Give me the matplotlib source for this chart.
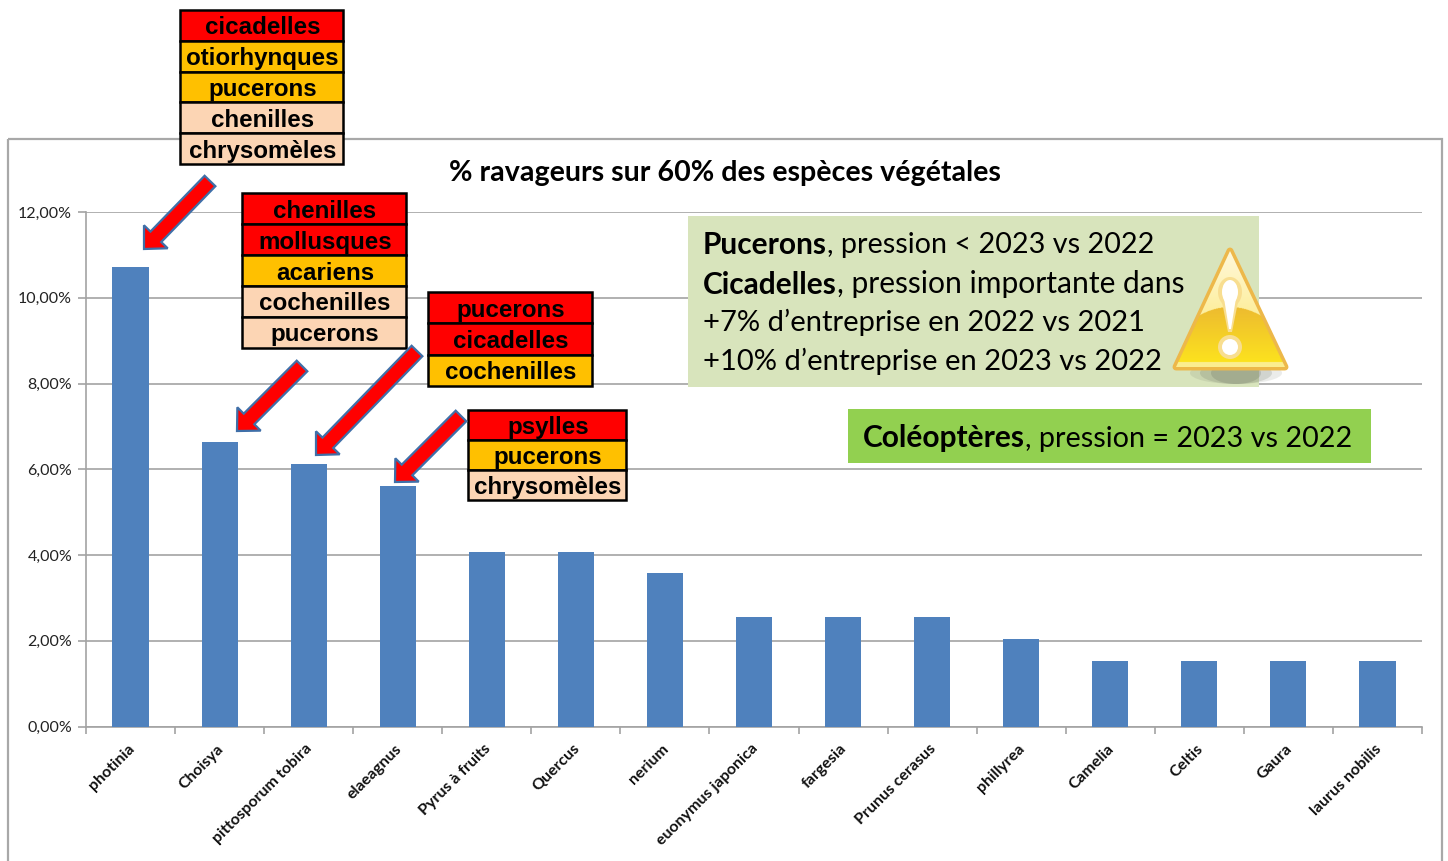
import numpy as np
import matplotlib
matplotlib.use("Agg")
import matplotlib.pyplot as plt
from matplotlib.patches import Rectangle, Polygon, Ellipse, FancyArrow
from matplotlib.colors import to_rgb

# chart data
plants = ["photinia", "Choisya", "pittosporum tobira", "elaeagnus", "Pyrus à fruits",
          "Quercus", "nerium", "euonymus japonica", "fargesia", "Prunus cerasus",
          "phillyrea", "Camelia", "Celtis", "Gaura", "laurus nobilis"]
values = [10.72, 6.63, 6.12, 5.61, 4.08, 4.08, 3.57, 2.55, 2.55, 2.55, 2.04, 1.53, 1.53, 1.53, 1.53]
y_ticks = [0, 2, 4, 6, 8, 10, 12]
y_labels = ["0,00%", "2,00%", "4,00%", "6,00%", "8,00%", "10,00%", "12,00%"]

# pest boxes: names and level (r = strong, o = medium, p = weak)
pests_1 = ["cicadelles", "otiorhynques", "pucerons", "chenilles", "chrysomèles"]
levels_1 = ["r", "o", "o", "p", "p"]
pests_2 = ["chenilles", "mollusques", "acariens", "cochenilles", "pucerons"]
levels_2 = ["r", "r", "o", "p", "p"]
pests_3 = ["pucerons", "cicadelles", "cochenilles"]
levels_3 = ["r", "r", "o"]
pests_4 = ["psylles", "pucerons", "chrysomèles"]
levels_4 = ["r", "o", "p"]

level_colors = {"r": "#FF0000", "o": "#FFC000", "p": "#FCD5B4"}
W, H = 1448, 861
BODY = "Lato"
GRAY = "#A3A3A3"

fig = plt.figure(figsize=(W / 100, H / 100), dpi=100, facecolor="white")


def pixel_axes(zorder):
    a = fig.add_axes([0, 0, 1, 1], zorder=zorder)
    a.set_xlim(0, W)
    a.set_ylim(H, 0)
    a.axis("off")
    a.patch.set_alpha(0)
    return a


# outer chart frame
bg = pixel_axes(0)
bg.add_patch(Rectangle((7.5, 138.5), 1434, 760, fill=False, ec="#A8A8A8", lw=1.6))

# bar chart
ax = fig.add_axes([86 / W, 1 - 726.5 / H, (1422 - 86) / W, (726.5 - 212) / H], zorder=1)
ax.patch.set_alpha(0)
x = np.arange(len(plants))
ax.bar(x, values, width=0.405, color="#4F81BD", zorder=3)
ax.set_xlim(-0.5, len(plants) - 0.5)
ax.set_ylim(0, 12)
ax.set_yticks(y_ticks)
ax.set_yticklabels(y_labels, fontsize=11.5, family="Lato", color="#222222")
ax.set_xticks(np.arange(len(plants) + 1) - 0.5)
ax.set_xticklabels([])
ax.tick_params(axis="y", length=6, width=1.2, color=GRAY, pad=4)
ax.tick_params(axis="x", length=5, width=1.2, color=GRAY)
ax.grid(axis="y", color=GRAY, lw=1.2, zorder=0)
for s in ["top", "right"]:
    ax.spines[s].set_visible(False)
for s in ["left", "bottom"]:
    ax.spines[s].set_color(GRAY)
    ax.spines[s].set_linewidth(1.2)

# rotated category labels, end anchored under each bar
for i, name in enumerate(plants):
    ax.annotate(name, (i, 0), xytext=(-2.5, -11), textcoords="offset points",
                rotation=45, ha="right", va="top", rotation_mode="anchor",
                fontsize=11.5, family="Lato", fontweight="bold", color="#111111")

top = pixel_axes(2)
top.text(724.5, 173.5, "% ravageurs sur 60% des espèces végétales", ha="center", va="center",
         fontsize=20.65, family=BODY, fontweight="bold", color="black")


def pest_box(x0, x1, y0, y1, names, levels):
    h = (y1 - y0) / len(names)
    for i, (n, lv) in enumerate(zip(names, levels)):
        top.add_patch(Rectangle((x0, y0 + i * h), x1 - x0, h, fc=level_colors[lv], ec="black", lw=1.8))
        top.text((x0 + x1) / 2 + 1, y0 + (i + 0.5) * h, n, ha="center", va="center_baseline",
                 fontsize=17.4, family="Liberation Sans", fontweight="bold", color="black")


pest_box(180, 343, 10, 164, pests_1, levels_1)
pest_box(242, 406, 193, 348, pests_2, levels_2)
pest_box(428, 592, 292, 386, pests_3, levels_3)
pest_box(468, 626, 410, 500, pests_4, levels_4)


def red_arrow(x0, y0, x1, y1):
    top.add_patch(FancyArrow(x0, y0, x1 - x0, y1 - y0, width=15, head_width=33, head_length=17,
                             length_includes_head=True, fc="#FF0000", ec="#3F6FA8", lw=1.6))


red_arrow(210, 181, 144, 249)
red_arrow(302, 366, 237, 431)
red_arrow(417, 351, 316, 455)
red_arrow(461, 416, 395, 482)


def mixed_line(x0, yc, bold, rest, size):
    t = top.text(x0, yc, bold, ha="left", va="center_baseline", fontsize=21.5, family=BODY,
                 fontweight="bold", color="black")
    box = t.get_window_extent(fig.canvas.get_renderer())
    top.text(box.x1, yc, rest, ha="left", va="center_baseline", fontsize=size, family=BODY, color="black")


# comment boxes
top.add_patch(Rectangle((688, 216), 571, 171, fc="#D8E4BC", ec="none"))
top.add_patch(Rectangle((848, 409), 523, 54, fc="#92D050", ec="none"))
mixed_line(703, 243, "Pucerons", ", pression < 2023 vs 2022", 20.7)
mixed_line(703, 282, "Cicadelles", ", pression importante dans", 21.6)
mixed_line(703, 320, "", "+7% d’entreprise en 2022 vs 2021", 21)
mixed_line(703, 359, "", "+10% d’entreprise en 2023 vs 2022", 20.95)
mixed_line(863, 436, "Coléoptères", ", pression = 2023 vs 2022", 20.7)

# warning icon
for w, a in [(92, 0.12), (72, 0.18), (50, 0.22)]:
    top.add_patch(Ellipse((1236, 373), w, 22, fc="#606858", ec="none", alpha=a))
tri = [(1230, 251), (1176, 367), (1285, 367)]
top.add_patch(Polygon(tri, closed=True, fc="#F0C860", ec="#EDB84A", lw=5, joinstyle="round"))
gx, gy = np.meshgrid(np.linspace(1170, 1292, 244), np.linspace(246, 372, 252))
dome = 307 + 18 * ((gx - 1230) / 45) ** 2
t_up = np.clip((gy - 250) / 60, 0, 1)[..., None]
t_lo = np.clip((gy - 307) / 55, 0, 1)[..., None]
img_up = (1 - t_up) * np.array(to_rgb("#FFF8DC")) + t_up * np.array(to_rgb("#FDEFA0"))
img_lo = (1 - t_lo) * np.array(to_rgb("#EDBB30")) + t_lo * np.array(to_rgb("#FCE21E"))
img = np.where((gy < dome)[..., None], img_up, img_lo)
img[gy > 362] = to_rgb("#FBEE90")
im = top.imshow(img, extent=(1170, 1292, 372, 246), aspect="auto", zorder=2)
clip = Polygon(tri, closed=True, transform=top.transData, fc="none", ec="none")
top.add_patch(clip)
im.set_clip_path(clip)
top.set_xlim(0, W)
top.set_ylim(H, 0)
# exclamation mark with soft halo
top.add_patch(Polygon([(1220, 292), (1228, 332), (1232, 332), (1240, 292)], closed=True,
                      fc="#F8DE90", ec="none", zorder=3))
top.add_patch(Ellipse((1230, 292), 24, 30, fc="#F8DE90", ec="none", zorder=3))
top.add_patch(Ellipse((1230, 347), 24, 24, fc="#F8DE90", ec="none", zorder=3))
top.add_patch(Polygon([(1223, 292), (1229, 329), (1231, 329), (1237, 292)], closed=True,
                      fc="white", ec="none", zorder=4))
top.add_patch(Ellipse((1230, 292), 16, 24, fc="white", ec="none", zorder=4))
top.add_patch(Ellipse((1230, 347), 16, 16, fc="white", ec="none", zorder=4))

fig.savefig("out.png", dpi=100)
